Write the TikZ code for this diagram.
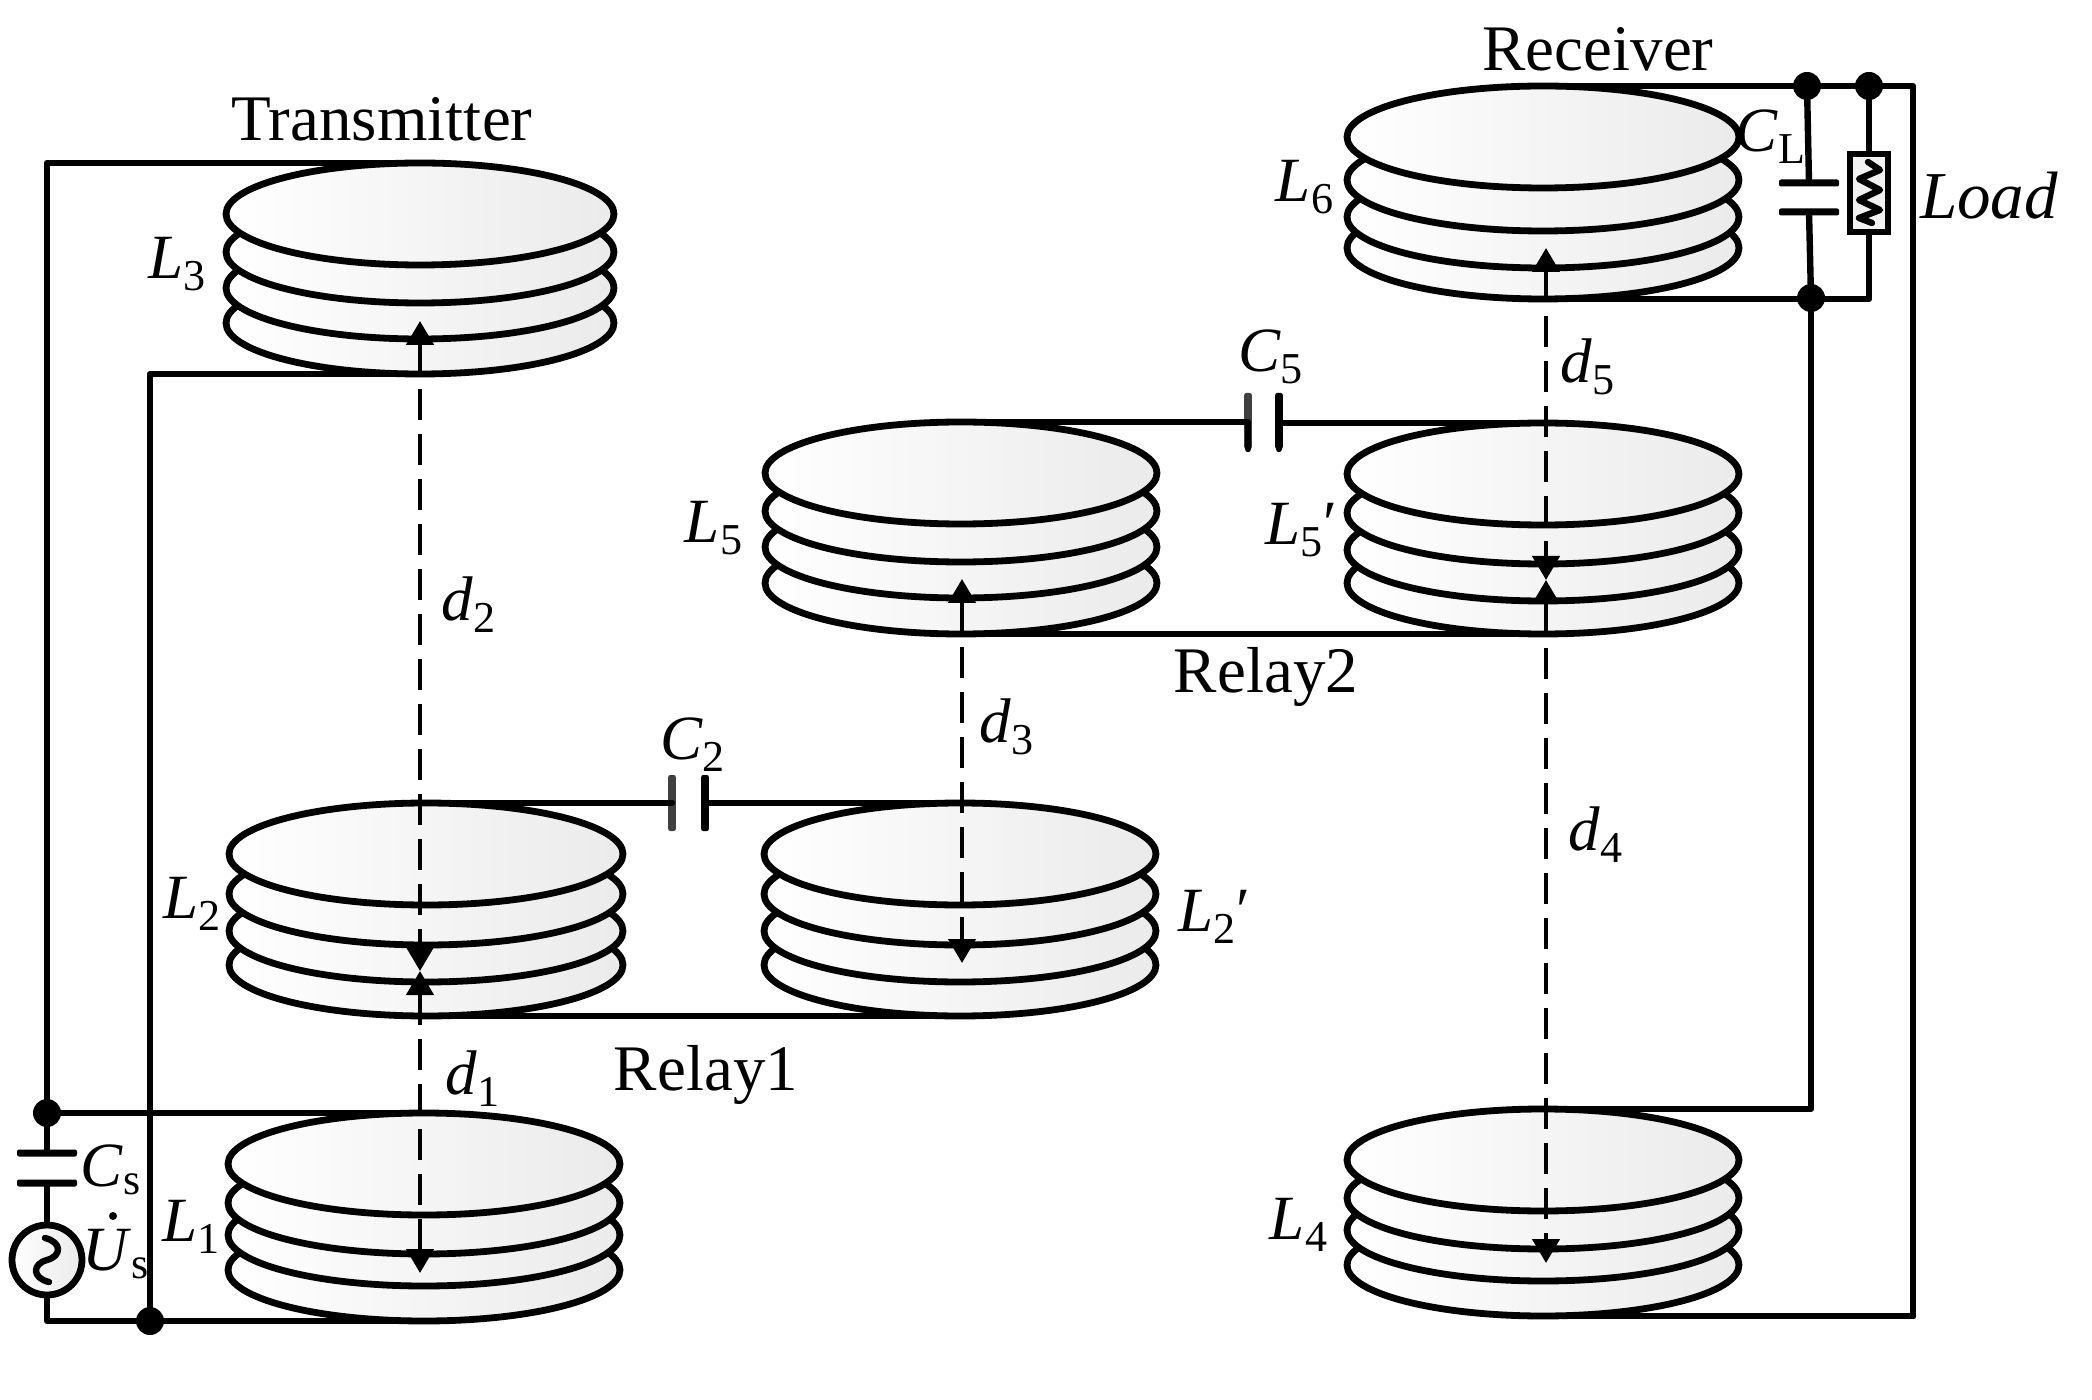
\documentclass[tikz,border=0pt]{standalone}
\usepackage{fontspec}
\setmainfont{Liberation Serif}
\usetikzlibrary{arrows.meta, shapes.geometric}
\newcommand{\sym}[2]{\textit{#1}\textsubscript{#2}}
\tikzset{
  coil/.style={ellipse, draw, line width=3.4pt, inner sep=0pt, outer sep=0pt, minimum width=196pt, minimum height=51pt, left color=white, right color=black!8},
  wire/.style={line width=3.2pt, line cap=round, line join=round},
  gap/.style={line width=2.2pt, dash pattern=on 15.5pt off 7pt, {Triangle[length=12pt,width=13.5pt]}-{Triangle[length=12pt,width=13.5pt]}},
  joint/.style={circle, fill=black, inner sep=0pt, outer sep=0pt, minimum size=14pt},
  tick/.style={circle, fill=black, inner sep=0pt, outer sep=0pt, minimum size=4pt},
  hplate/.style={rectangle, fill=black, rounded corners=1pt, inner sep=0pt, outer sep=0pt, minimum width=30pt, minimum height=3.5pt},
  vplate/.style={rectangle, fill=black, rounded corners=1pt, inner sep=0pt, outer sep=0pt, minimum width=3.8pt, minimum height=28pt},
  lab/.style={inner sep=0pt, font=\fontsize{31.5}{31.5}\selectfont},
  title/.style={inner sep=0pt, font=\fontsize{32.5}{32.5}\selectfont}
}
\begin{document}
\begin{tikzpicture}[x=0.5pt, y=-0.5pt]
  \useasboundingbox (0, 0) rectangle (2092, 1400);
  \node [coil, minimum width=194pt] (l3d) at (420, 323) {};
  \node [coil, minimum width=194pt] (l3c) at (420, 288) {};
  \node [coil, minimum width=194pt] (l3b) at (420, 252) {};
  \node [coil, minimum width=194pt] (l3) at (420, 214) {};
  \node [coil, minimum width=197pt] (l2d) at (426, 965) {};
  \node [coil, minimum width=197pt] (l2c) at (426, 931) {};
  \node [coil, minimum width=197pt] (l2b) at (426, 894) {};
  \node [coil, minimum width=197pt] (l2) at (426, 854) {};
  \node [coil] (l1d) at (424, 1270) {};
  \node [coil] (l1c) at (424, 1235) {};
  \node [coil] (l1b) at (424, 1203) {};
  \node [coil] (l1) at (424, 1164) {};
  \node [coil] (m2d) at (960, 965) {};
  \node [coil] (m2c) at (960, 931) {};
  \node [coil] (m2b) at (960, 894) {};
  \node [coil] (m2) at (960, 854) {};
  \node [coil] (l5d) at (961, 583) {};
  \node [coil] (l5c) at (961, 547) {};
  \node [coil] (l5b) at (961, 511) {};
  \node [coil] (l5) at (961, 473) {};
  \node [coil] (m5d) at (1543, 583) {};
  \node [coil] (m5c) at (1543, 550) {};
  \node [coil] (m5b) at (1543, 513) {};
  \node [coil] (m5) at (1543, 474) {};
  \node [coil] (l6d) at (1543, 248) {};
  \node [coil] (l6c) at (1543, 217) {};
  \node [coil] (l6b) at (1543, 180) {};
  \node [coil] (l6) at (1543, 137) {};
  \node [coil] (l4d) at (1543, 1265) {};
  \node [coil] (l4c) at (1543, 1230) {};
  \node [coil] (l4b) at (1543, 1198) {};
  \node [coil] (l4) at (1543, 1160) {};
  \node [joint] (ds) at (47, 1113) {};
  \node [joint] (db) at (150, 1321) {};
  \node [joint] (dc) at (1807, 86) {};
  \node [joint] (dr) at (1869, 86) {};
  \node [joint] (dd) at (1811, 298) {};
  \node [hplate] (csa) at (47, 1153) {};
  \node [hplate] (csb) at (47, 1183) {};
  \node [circle, draw, line width=3.4pt, inner sep=0pt, outer sep=0pt, minimum size=35pt, left color=white, right color=black!8] (us) at (47, 1260) {};
  \draw [wire] (45, 1238) .. controls (62, 1242) and (62, 1256) .. (47, 1260) .. controls (32, 1264) and (32, 1278) .. (49, 1282);
  \node [tick] (du) at (113, 1216) {};
  \node [hplate] (cla) at (1809, 183) {};
  \node [hplate] (clb) at (1809, 212) {};
  \node [rectangle, draw, line width=3.2pt, inner sep=0pt, outer sep=0pt, minimum width=19pt, minimum height=39pt, fill=black!5] (rl) at (1869, 193) {};
  \draw [wire] (1868, 162) to (1880, 170) to (1859, 179) to (1880, 190) to (1859, 200) to (1880, 210) to (1859, 218) to (1872, 223);
  \node [vplate, fill=black!75] (c2a) at (672, 803) {};
  \node [vplate] (c2b) at (705, 803) {};
  \node [vplate, fill=black!75] (c5a) at (1248, 421) {};
  \node [vplate] (c5b) at (1279, 421) {};
  \coordinate (rc) at (1913, 1316);
  \draw [wire] (l3.north) -| (ds);
  \draw [wire] (ds) to (l1.north);
  \draw [wire] (ds) to (csa);
  \draw [wire] (csb) to (us);
  \draw [wire] (us) |- (l1d.south);
  \draw [wire] (db) |- (l3d.south);
  \draw [wire] (l2.north) -| (c2a);
  \draw [wire] (c2b) |- (m2.north);
  \draw [wire] (l2d.south) to (m2d.south);
  \draw [wire] (l5.north) -| (c5a);
  \draw [wire] (c5b) |- (m5.north);
  \draw [wire] (l5d.south) to (m5d.south);
  \draw [wire] (l6.north) -| (rc);
  \draw [wire] (rc) to (l4d.south);
  \draw [wire] (dc) to (cla);
  \draw [wire] (clb) to (dd);
  \draw [wire] (dr) to (rl);
  \draw [wire] (rl) |- (l6d.south);
  \draw [wire] (dd) |- (l4.north);
  \coordinate (t3) at (420, 321);
  \coordinate (t2) at (420, 971);
  \coordinate (t1) at (420, 1273);
  \coordinate (t5) at (962, 579);
  \coordinate (t6) at (962, 963);
  \coordinate (t7) at (1546, 248);
  \coordinate (t8) at (1546, 580);
  \coordinate (t4) at (1546, 1263);
  \draw [gap] (t3) to (t2);
  \draw [gap] (t2) to (t1);
  \draw [gap] (t5) to (t6);
  \draw [gap] (t7) to (t8);
  \draw [gap] (t8) to (t4);
  \node [title] (tx) at (382, 119) {Transmitter};
  \node [title] (rx) at (1598, 49) {Receiver};
  \node [title] (r1) at (706, 1075) {Relay1};
  \node [title] (r2) at (1266, 677) {Relay2};
  \node [lab] (nl3) at (178, 264) {\sym{L}{3}};
  \node [lab] (nl2) at (193, 904) {\sym{L}{2}};
  \node [lab] (nl1) at (192, 1227) {\sym{L}{1}};
  \node [lab] (nl5) at (714, 528) {\sym{L}{5}};
  \node [lab] (nm5) at (1301, 530) {\sym{L}{5}′};
  \node [lab] (nm2) at (1214, 917) {\sym{L}{2}′};
  \node [lab] (nl6) at (1305, 187) {\sym{L}{6}};
  \node [lab] (nl4) at (1299, 1225) {\sym{L}{4}};
  \node [lab] (ncl) at (1771, 137) {\textit{C}\textsubscript{L}};
  \node [lab, font=\fontsize{33.5}{33.5}\selectfont] (nrl) at (1989, 196) {\textit{Load}};
  \node [lab] (nc5) at (1271, 357) {\sym{C}{5}};
  \node [lab] (nc2) at (693, 745) {\sym{C}{2}};
  \node [lab] (ncs) at (111, 1170) {\sym{C}{s}};
  \node [lab] (nus) at (116, 1254) {\sym{U}{s}};
  \node [lab] (nd2) at (469, 605) {\sym{d}{2}};
  \node [lab] (nd1) at (473, 1079) {\sym{d}{1}};
  \node [lab] (nd3) at (1007, 727) {\sym{d}{3}};
  \node [lab] (nd5) at (1588, 367) {\sym{d}{5}};
  \node [lab] (nd4) at (1596, 835) {\sym{d}{4}};
\end{tikzpicture}
\end{document}
